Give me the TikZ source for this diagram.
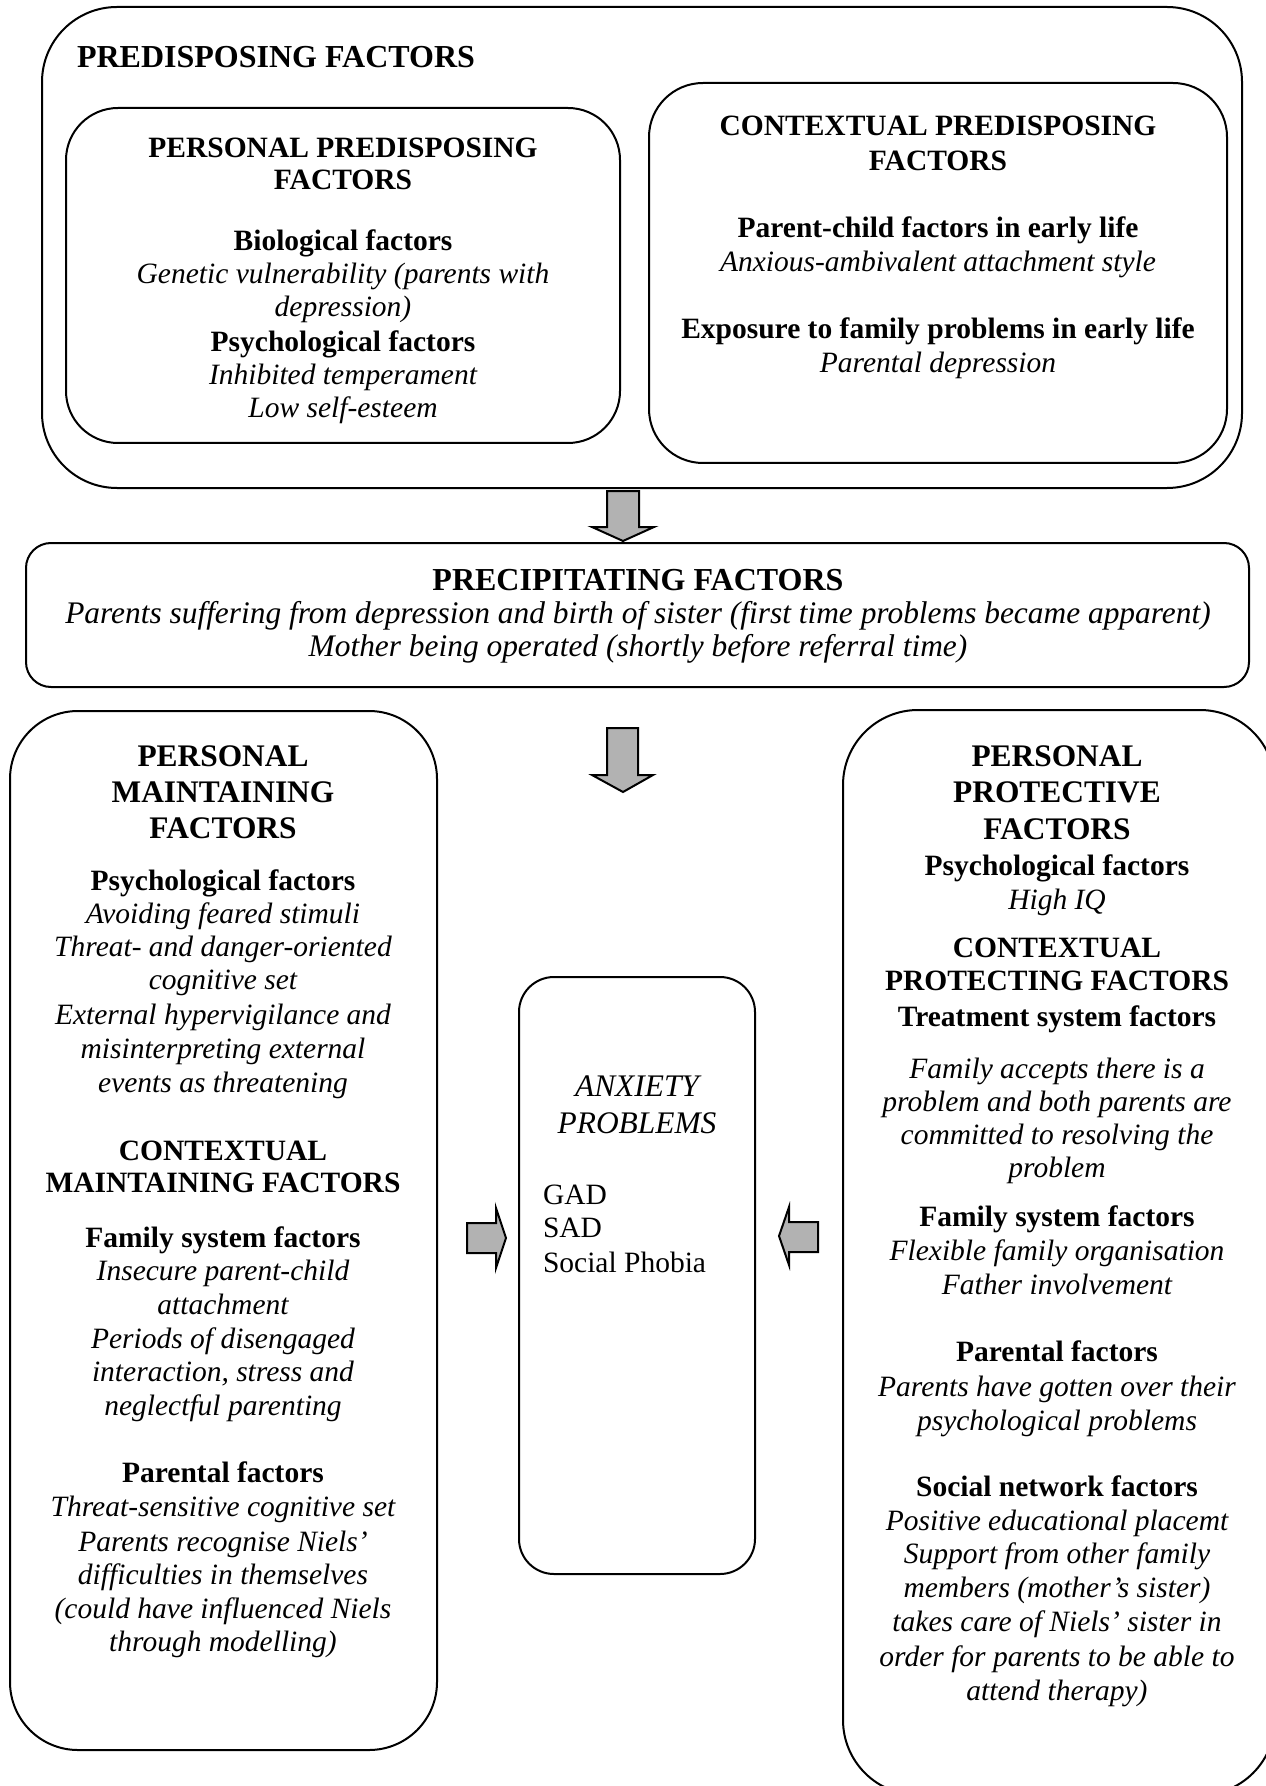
\documentclass[tikz,border=0pt]{standalone}
\usepackage{fontspec}
\setmainfont{Liberation Serif}
\newcommand\bigsz{\fontsize{15.7}{17}\selectfont}
\newcommand\topsz{\fontsize{16}{17}\selectfont}
\newcommand\smsz{\fontsize{14.75}{16}\selectfont}
\begin{document}
\begin{tikzpicture}[x=0.5pt,y=-0.5pt,line width=1pt,
  txt/.style={inner sep=0pt,anchor=base,font=\smsz},
  hb/.style={inner sep=0pt,anchor=base,font=\smsz\bfseries},
  it/.style={inner sep=0pt,anchor=base,font=\smsz\itshape},
  hbL/.style={inner sep=0pt,anchor=base,font=\bigsz\bfseries},
  hbT/.style={inner sep=0pt,anchor=base,font=\topsz\bfseries},
  itL/.style={inner sep=0pt,anchor=base,font=\bigsz\itshape},
  boxline/.style={draw,line width=1pt},
  blockarrow/.style={draw,fill=black!30,line width=1pt,line join=miter}]
\useasboundingbox (0,0) rectangle (1265,1786);
% boxes
\draw[boxline,rounded corners=37.5pt] (42,7) rectangle (1242,488);
\draw[boxline,rounded corners=26pt] (66,108) rectangle (620,443);
\draw[boxline,rounded corners=27pt] (649,83) rectangle (1227,463);
\draw[boxline,rounded corners=12.5pt] (26,543) rectangle (1249,687);
\draw[boxline,rounded corners=34pt] (10,711) rectangle (437,1750);
\draw[boxline,rounded corners=37.5pt] (843,710) rectangle (1275,1795);
\draw[boxline,rounded corners=17.5pt] (519,977) rectangle (755,1574);
% block arrows
\draw[blockarrow] (607,491) -- (639,491) -- (639,527) -- (654,527) -- (623,541) -- (592,527) -- (607,527) -- cycle;
\draw[blockarrow] (607,728) -- (638,728) -- (638,775) -- (653,775) -- (623,792) -- (592,775) -- (607,775) -- cycle;
\draw[blockarrow] (467,1223) -- (496,1223) -- (496,1208) -- (506,1238) -- (496,1268) -- (496,1253) -- (467,1253) -- cycle;
\draw[blockarrow] (818,1222) -- (789,1222) -- (789,1207) -- (779,1236) -- (789,1265) -- (789,1252) -- (818,1252) -- cycle;
% predisposing
\node[hbT,anchor=base west] (pre) at (76,68) {PREDISPOSING FACTORS};
\node[hb] (pp1) at (343,158) {PERSONAL PREDISPOSING};
\node[hb] (pp2) at (343,190) {FACTORS};
\node[hb] (pp3) at (343,251) {Biological factors};
\node[it] (pp4) at (343,284) {Genetic vulnerability (parents with};
\node[it] (pp5) at (343,317) {depression)};
\node[hb] (pp6) at (343,352) {Psychological factors};
\node[it] (pp7) at (343,385) {Inhibited temperament};
\node[it] (pp8) at (343,418) {Low self-esteem};
\node[hb] (cp1) at (938,136) {CONTEXTUAL PREDISPOSING};
\node[hb] (cp2) at (938,171) {FACTORS};
\node[hb] (cp3) at (938,238) {Parent-child factors in early life};
\node[it] (cp4) at (938,272) {Anxious-ambivalent attachment style};
\node[hb] (cp5) at (938,339) {Exposure to family problems in early life};
\node[it] (cp6) at (938,373) {Parental depression};
% precipitating
\node[hbT] (pf1) at (638,590) {PRECIPITATING FACTORS};
\node[itL] (pf2) at (638,623) {Parents suffering from depression and birth of sister (first time problems became apparent)};
\node[itL] (pf3) at (638,656) {Mother being operated (shortly before referral time)};
% maintaining
\node[hbL] (m1) at (223,766) {PERSONAL};
\node[hbL] (m2) at (223,802) {MAINTAINING};
\node[hbL] (m3) at (223,838) {FACTORS};
\node[hb] (m4) at (223,890) {Psychological factors};
\node[it] (m5) at (223,923) {Avoiding feared stimuli};
\node[it] (m6) at (223,956) {Threat- and danger-oriented};
\node[it] (m7) at (223,989) {cognitive set};
\node[it] (m8) at (223,1024) {External hypervigilance and};
\node[it] (m9) at (223,1058) {misinterpreting external};
\node[it] (m10) at (223,1092) {events as threatening};
\node[hb] (m11) at (223,1160) {CONTEXTUAL};
\node[hb] (m12) at (223,1192) {MAINTAINING FACTORS};
\node[hb] (m13) at (223,1247) {Family system factors};
\node[it] (m14) at (223,1280) {Insecure parent-child};
\node[it] (m15) at (223,1314) {attachment};
\node[it] (m16) at (223,1348) {Periods of disengaged};
\node[it] (m17) at (223,1381) {interaction, stress and};
\node[it] (m18) at (223,1415) {neglectful parenting};
\node[hb] (m19) at (223,1482) {Parental factors};
\node[it] (m20) at (223,1516) {Threat-sensitive cognitive set};
\node[it] (m21) at (223,1551) {Parents recognise Niels’};
\node[it] (m22) at (223,1584) {difficulties in themselves};
\node[it] (m23) at (223,1618) {(could have influenced Niels};
\node[it] (m24) at (223,1651) {through modelling)};
% anxiety
\node[itL] (a1) at (637,1096) {ANXIETY};
\node[itL] (a2) at (637,1133) {PROBLEMS};
\node[txt,anchor=base west] (a3) at (542,1204) {GAD};
\node[txt,anchor=base west] (a4) at (542,1237) {SAD};
\node[txt,anchor=base west] (a5) at (542,1272) {Social Phobia};
% protective
\node[hbL] (r1) at (1057,766) {PERSONAL};
\node[hbL] (r2) at (1057,802) {PROTECTIVE};
\node[hbL] (r3) at (1057,839) {FACTORS};
\node[hb] (r4) at (1057,875) {Psychological factors};
\node[it] (r5) at (1057,909) {High IQ};
\node[hb] (r6) at (1057,957) {CONTEXTUAL};
\node[hb] (r7) at (1057,990) {PROTECTING FACTORS};
\node[hb] (r8) at (1057,1026) {Treatment system factors};
\node[it] (r9) at (1057,1078) {Family accepts there is a};
\node[it] (r10) at (1057,1111) {problem and both parents are};
\node[it] (r11) at (1057,1144) {committed to resolving the};
\node[it] (r12) at (1057,1177) {problem};
\node[hb] (r13) at (1057,1226) {Family system factors};
\node[it] (r14) at (1057,1260) {Flexible family organisation};
\node[it] (r15) at (1057,1294) {Father involvement};
\node[hb] (r16) at (1057,1361) {Parental factors};
\node[it] (r17) at (1057,1396) {Parents have gotten over their};
\node[it] (r18) at (1057,1430) {psychological problems};
\node[hb] (r19) at (1057,1496) {Social network factors};
\node[it] (r20) at (1057,1530) {Positive educational placemt};
\node[it] (r21) at (1057,1563) {Support from other family};
\node[it] (r22) at (1057,1597) {members (mother’s sister)};
\node[it] (r23) at (1057,1631) {takes care of Niels’ sister in};
\node[it] (r24) at (1057,1666) {order for parents to be able to};
\node[it] (r25) at (1057,1700) {attend therapy)};
\end{tikzpicture}
\end{document}
